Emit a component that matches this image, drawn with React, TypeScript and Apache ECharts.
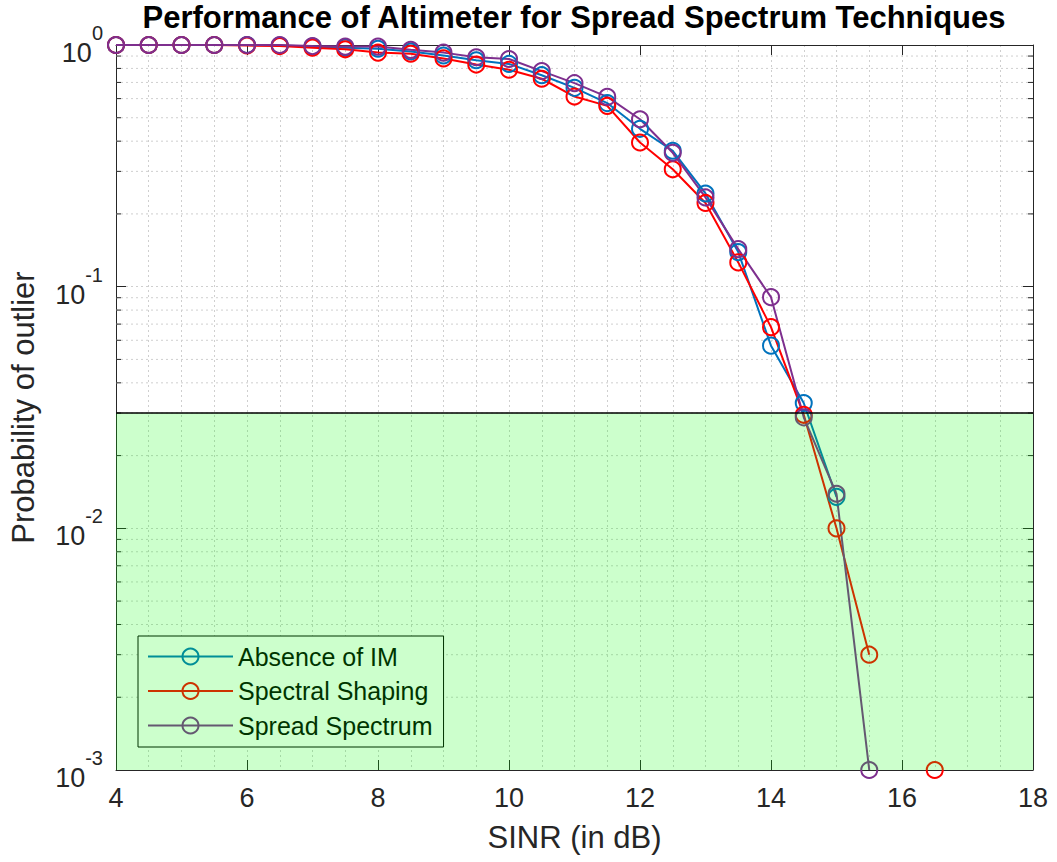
import React, { useEffect, useRef } from "react";
import * as echarts from "echarts";

// ---------- data ----------
const X_VALUES = [4, 4.5, 5, 5.5, 6, 6.5, 7, 7.5, 8, 8.5, 9, 9.5, 10, 10.5, 11, 11.5, 12, 12.5, 13, 13.5, 14, 14.5, 15, 15.5, 16, 16.5];

const ABSENCE_OF_IM = [1.0, 1.0, 1.0, 1.0, 1.0, 0.995, 0.985, 0.975, 0.965, 0.94, 0.905, 0.865, 0.835, 0.75, 0.665, 0.575, 0.45, 0.365, 0.243, 0.139, 0.057, 0.033, 0.0135, null, null, null];
const SPECTRAL_SHAPING = [1.0, 1.0, 1.0, 1.0, 0.995, 0.99, 0.975, 0.96, 0.93, 0.92, 0.88, 0.83, 0.79, 0.725, 0.612, 0.56, 0.395, 0.306, 0.222, 0.126, 0.068, 0.0295, 0.01, 0.003, null, 0.001];
const SPREAD_SPECTRUM = [1.0, 1.0, 1.0, 1.0, 1.0, 1.0, 0.99, 0.985, 0.985, 0.955, 0.93, 0.89, 0.875, 0.78, 0.695, 0.61, 0.493, 0.358, 0.234, 0.143, 0.0905, 0.0288, 0.0139, 0.001, null, null];

const SERIES_NAMES = ["Absence of IM", "Spectral Shaping", "Spread Spectrum"];
const SERIES_COLORS = ["#0072BD", "#FF0000", "#7E2F8E"];

const X_MIN = 4;
const X_MAX = 18;
const X_INTERVAL = 2;
const Y_MIN = 0.001;
const Y_MAX = 1;

// target region (shaded)
const ZONE_LOW = 0.001;
const ZONE_HIGH = 0.03;

// minor log gridlines
const MINOR_Y = [
  0.002, 0.003, 0.004, 0.005, 0.006, 0.007, 0.008, 0.009,
  0.02, 0.03, 0.04, 0.05, 0.06, 0.07, 0.08, 0.09,
  0.2, 0.3, 0.4, 0.5, 0.6, 0.7, 0.8, 0.9,
];

const TITLE = "Performance of Altimeter for Spread Spectrum Techniques";
const X_NAME = "SINR (in dB)";
const Y_NAME = "Probability of outlier";

const FONT = "'Liberation Sans', Arial, Helvetica, sans-serif";
const AXIS_COLOR = "#262626";
const GRID_COLOR = "#cfcfcf";
const GRID_DASH = [2, 3];

export default function App() {
  const ref = useRef<HTMLDivElement>(null);

  useEffect(() => {
    if (!ref.current) return;
    const chart = echarts.init(ref.current, undefined, { renderer: "svg" });

    const seriesData = [ABSENCE_OF_IM, SPECTRAL_SHAPING, SPREAD_SPECTRUM];

    const lineSeries = seriesData.map((vals, i) => ({
      name: SERIES_NAMES[i],
      type: "line",
      xAxisIndex: 0,
      yAxisIndex: 0,
      data: X_VALUES.map((x, j) => [x, vals[j] === null ? null : vals[j]]),
      connectNulls: false,
      symbol: "circle",
      symbolSize: 16,
      showSymbol: true,
      showAllSymbol: true,
      lineStyle: { color: SERIES_COLORS[i], width: 2 },
      itemStyle: { color: "rgba(0,0,0,0)", borderColor: SERIES_COLORS[i], borderWidth: 2 },
      emphasis: { disabled: true },
      z: 2,
    }));

    const axisTick = { show: true, inside: true, length: 10, lineStyle: { color: AXIS_COLOR, width: 1 } };
    const axisLine = { show: true, lineStyle: { color: AXIS_COLOR, width: 1 } };

    const option: any = {
      animation: false,
      backgroundColor: "#ffffff",
      title: {
        text: TITLE,
        left: 574,
        top: 2,
        padding: 0,
        textAlign: "center",
        textStyle: { fontFamily: FONT, fontWeight: "bold", fontSize: 31, color: "#000" },
      },
      grid: { left: 115, top: 45, width: 918, height: 725, containLabel: false },
      legend: {
        data: SERIES_NAMES,
        orient: "vertical",
        left: 138,
        top: 636,
        padding: [8, 11, 9, 9],
        itemGap: 9.5,
        itemWidth: 85,
        itemHeight: 20,
        backgroundColor: "#ffffff",
        borderColor: "#000000",
        borderWidth: 1,
        borderRadius: 0,
        textStyle: { fontFamily: FONT, fontSize: 25, color: "#000" },
        selectedMode: false,
        z: 4,
      },
      xAxis: [
        {
          type: "value",
          min: X_MIN,
          max: X_MAX,
          interval: X_INTERVAL,
          position: "bottom",
          axisLine,
          axisTick,
          axisLabel: { fontFamily: FONT, fontSize: 27, color: AXIS_COLOR, margin: 14 },
          splitLine: { show: true, lineStyle: { color: GRID_COLOR, type: GRID_DASH, width: 1 } },
          minorTick: { show: false, splitNumber: 4 },
          minorSplitLine: { show: true, lineStyle: { color: GRID_COLOR, type: GRID_DASH, width: 1 } },
          name: X_NAME,
          nameLocation: "middle",
          nameGap: 52,
          nameTextStyle: { fontFamily: FONT, fontSize: 31, color: AXIS_COLOR },
        },
        {
          type: "value",
          min: X_MIN,
          max: X_MAX,
          interval: X_INTERVAL,
          position: "top",
          axisLine,
          axisTick,
          axisLabel: { show: false },
          splitLine: { show: false },
        },
      ],
      yAxis: [
        {
          type: "log",
          logBase: 10,
          min: Y_MIN,
          max: Y_MAX,
          splitNumber: 3,
          position: "left",
          axisLine,
          axisTick,
          axisLabel: {
            margin: 13,
            formatter: (v: number) => {
              const e = Math.round(Math.log10(v));
              return "{b|10}{s|" + e + "}";
            },
            rich: {
              b: { fontFamily: FONT, fontSize: 27, color: AXIS_COLOR, padding: [16, 0, 0, 0] },
              s: { fontFamily: FONT, fontSize: 20, color: AXIS_COLOR, padding: [0, 0, 24, 0] },
            },
          },
          splitLine: { show: true, lineStyle: { color: GRID_COLOR, type: GRID_DASH, width: 1 } },
          name: Y_NAME,
          nameLocation: "middle",
          nameGap: 77,
          nameTextStyle: { fontFamily: FONT, fontSize: 31, color: AXIS_COLOR },
        },
        {
          type: "log",
          logBase: 10,
          min: Y_MIN,
          max: Y_MAX,
          splitNumber: 3,
          position: "right",
          axisLine,
          axisTick,
          axisLabel: { show: false },
          splitLine: { show: false },
        },
      ],
      series: [
        {
          name: "minorGrid",
          type: "custom",
          xAxisIndex: 0,
          yAxisIndex: 0,
          silent: true,
          z: 1,
          data: MINOR_Y.map((v) => [X_MIN, v]),
          renderItem: (params: any, api: any) => {
            const cs = params.coordSys;
            const y = api.coord([X_MIN, api.value(1)])[1];
            const left = cs.x;
            const right = cs.x + cs.width;
            return {
              type: "group",
              children: [
                { type: "line", shape: { x1: left, y1: y, x2: right, y2: y }, style: { stroke: GRID_COLOR, lineWidth: 1, lineDash: GRID_DASH } },
                { type: "line", shape: { x1: left, y1: y, x2: left + 5, y2: y }, style: { stroke: AXIS_COLOR, lineWidth: 1 } },
                { type: "line", shape: { x1: right - 5, y1: y, x2: right, y2: y }, style: { stroke: AXIS_COLOR, lineWidth: 1 } },
              ],
            };
          },
        },
        ...lineSeries,
        {
          name: "zone",
          type: "custom",
          xAxisIndex: 0,
          yAxisIndex: 0,
          silent: true,
          z: 10,
          encode: { x: [0, 2], y: [1, 3] },
          data: [[X_MIN, ZONE_LOW, X_MAX, ZONE_HIGH]],
          renderItem: (params: any, api: any) => {
            const p1 = api.coord([api.value(0), api.value(3)]);
            const p2 = api.coord([api.value(2), api.value(1)]);
            return {
              type: "group",
              children: [
                { type: "rect", shape: { x: p1[0], y: p1[1], width: p2[0] - p1[0], height: p2[1] - p1[1] }, style: { fill: "rgba(0,255,0,0.2)" } },
                { type: "line", shape: { x1: p1[0], y1: p1[1], x2: p2[0], y2: p1[1] }, style: { stroke: "#000", lineWidth: 1.5 } },
              ],
            };
          },
        },
      ],
    };

    chart.setOption(option);
    return () => chart.dispose();
  }, []);

  return <div ref={ref} style={{ position: "absolute", left: 0, top: 0, width: 1057, height: 862 }} />;
}
